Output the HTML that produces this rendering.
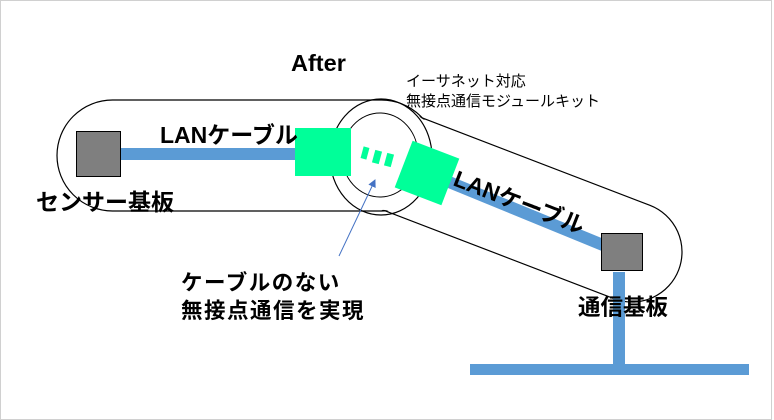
<!DOCTYPE html>
<html><head><meta charset="utf-8"><style>
html,body{margin:0;padding:0;background:#fff}
svg{display:block}
text{font-family:"Liberation Sans","Noto Sans CJK JP",sans-serif;fill:#000}
</style></head><body>
<svg width="774" height="420" viewBox="0 0 774 420" xmlns="http://www.w3.org/2000/svg">
<rect x="0.5" y="0.5" width="771" height="419" fill="#fff" stroke="#d0d0d0"/>
<defs>
<marker id="ah" markerWidth="8" markerHeight="8" refX="7" refY="4" orient="auto" markerUnits="userSpaceOnUse">
<path d="M0,0 L8,4 L0,8 z" fill="#4472c4"/></marker>
</defs>
<g fill="none" stroke="#000" stroke-width="1.2">
<rect x="57" y="100" width="380" height="111" rx="55.5"/>
<g transform="translate(632,252) rotate(21)"><rect x="-307" y="-50" width="357" height="100" rx="50"/></g>
</g>
<g fill="#fff" stroke="none">
<rect x="58" y="101" width="378" height="109" rx="54.5"/>
<g transform="translate(632,252) rotate(21)"><rect x="-306" y="-49" width="355" height="98" rx="49"/></g>
</g>
<ellipse cx="381" cy="157" rx="51" ry="58" fill="none" stroke="#000" stroke-width="1.2"/>
<ellipse cx="380" cy="155" rx="38" ry="42" fill="none" stroke="#000" stroke-width="1"/>
<rect x="120" y="148" width="178" height="12" fill="#5b9bd5"/>
<line x1="427" y1="173" x2="620" y2="252" stroke="#5b9bd5" stroke-width="12"/>
<rect x="613" y="272" width="12" height="93" fill="#5b9bd5"/>
<rect x="470" y="364" width="279" height="11" fill="#5b9bd5"/>
<rect x="76.5" y="131.5" width="44" height="45" fill="#7f7f7f" stroke="#000"/>
<rect x="601.5" y="233.5" width="41" height="37" fill="#7f7f7f" stroke="#000"/>
<rect x="295" y="128" width="56" height="48" fill="#00ff99"/>
<g transform="translate(427,173) rotate(21)"><rect x="-25" y="-25" width="50" height="50" fill="#00ff99"/></g>
<g fill="#00ff99">
<g transform="translate(365,153) rotate(15)"><rect x="-3" y="-6" width="6" height="12"/></g>
<g transform="translate(377,157) rotate(15)"><rect x="-3.5" y="-6.5" width="7" height="13"/></g>
<g transform="translate(389,160) rotate(15)"><rect x="-3.5" y="-6.5" width="7" height="13"/></g>
</g>
<line x1="339" y1="256" x2="375" y2="180" stroke="#4472c4" stroke-width="1" marker-end="url(#ah)"/>
<text x="291" y="71" font-size="23.5" font-weight="bold">After</text>
<text x="406" y="86" font-size="15">イーサネット対応</text>
<text x="406" y="106" font-size="15">無接点通信モジュールキット</text>
<text x="160" y="143" font-size="23" font-weight="bold">LANケーブル</text>
<text x="36" y="210" font-size="23" font-weight="bold">センサー基板</text>
<text transform="translate(452,185) rotate(21)" font-size="23" font-weight="bold">LANケーブル</text>
<text x="578" y="315" font-size="22.5" font-weight="bold">通信基板</text>
<text x="181" y="290" font-size="21.5" font-weight="bold" letter-spacing="1.5">ケーブルのない</text>
<text x="181" y="318" font-size="21.5" font-weight="bold" letter-spacing="1.5">無接点通信を実現</text>
</svg>
</body></html>
